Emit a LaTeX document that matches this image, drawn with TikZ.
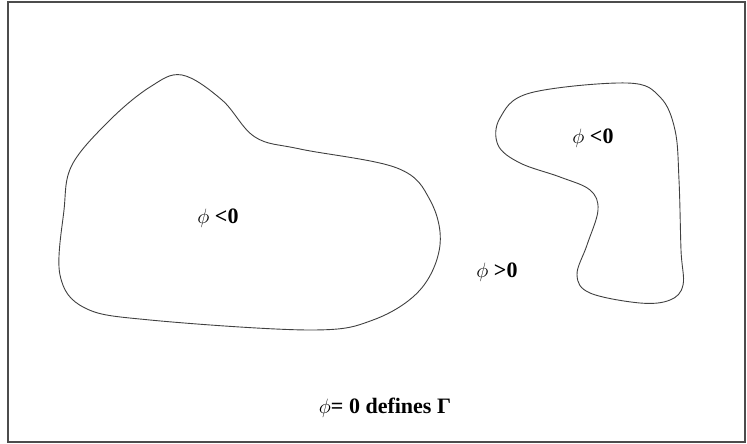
\documentclass[tikz,border=0pt]{standalone}
\usepackage{fontspec}
\setmainfont{Liberation Serif}
\usepackage{tikz}
\usetikzlibrary{positioning}

\begin{document}
\begin{tikzpicture}[
    x=1pt, y=-1pt,
    region/.style={draw=black!75, line width=0.9pt},
    sign/.style={font=\fontsize{22}{24}\selectfont\bfseries, inner sep=0pt},
]
    \useasboundingbox (0,0) rectangle (747,444);
    % Frame
    \draw[draw=black!70, line width=1.2pt] (8,2) rectangle (745,442);
    % Left region
    \draw[region] plot[smooth cycle, tension=0.6] coordinates {
        (182,75) (222,100) (255,137) (300,149) (397,168) (430,200)
        (440,245) (420,290) (373,320) (310,330) (150,320) (85,308)
        (60,275) (64,210) (72,165) (110,120) (150,87)};
    % Right region
    \draw[region] plot[smooth cycle, tension=0.6] coordinates {
        (530,93) (627,83) (660,97) (675,130) (679,180) (681,250)
        (683,285) (670,300) (640,303) (590,293) (577,275) (587,245)
        (598,210) (590,190) (560,177) (520,163) (498,145) (500,118)};
    % Labels
    \node[sign] (inleft) at (218,218) {$\phi$ <0};
    \node[sign] (inright) at (593,138) {$\phi$ <0};
    \node[sign] (outside) at (497,272) {$\phi$ >0};
    \node[sign] (iface) at (385,408) {$\phi$= 0 defines Γ};
\end{tikzpicture}
\end{document}
